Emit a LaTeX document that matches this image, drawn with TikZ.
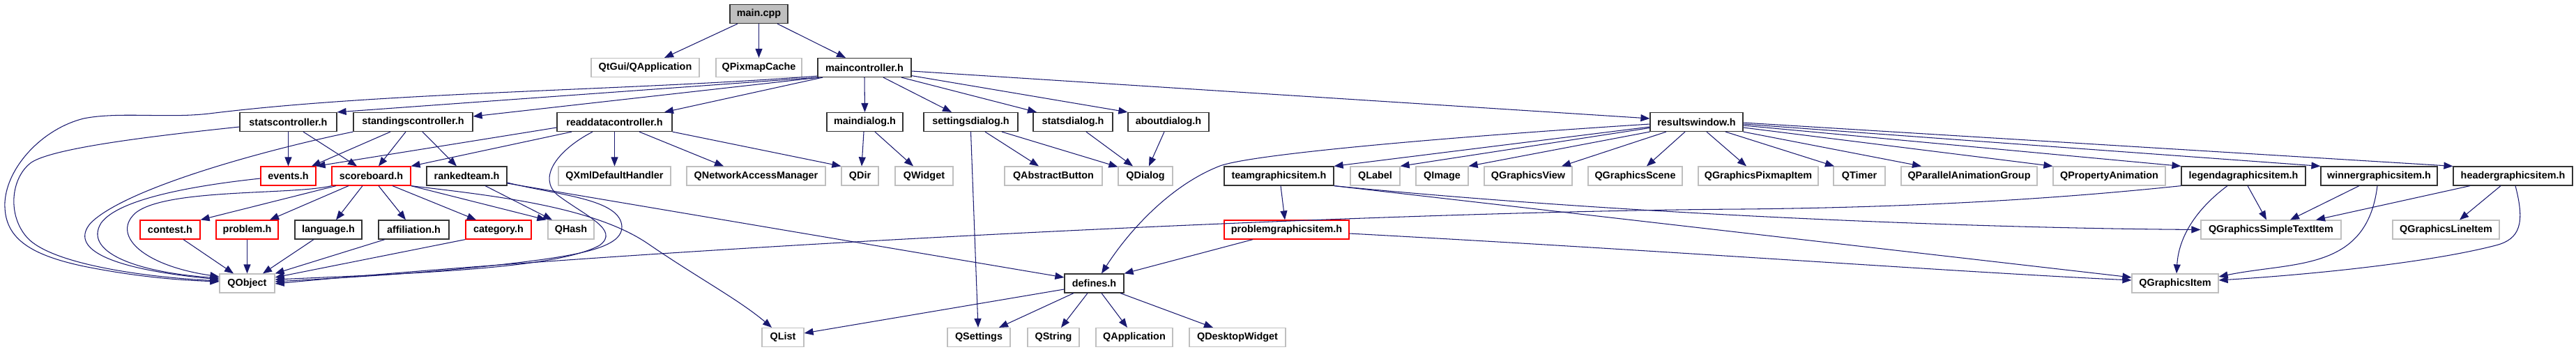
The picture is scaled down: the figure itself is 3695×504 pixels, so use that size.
\documentclass[tikz,border=0pt]{standalone}
\usepackage{fontspec}
\setmainfont{Liberation Sans}
\usetikzlibrary{arrows.meta}
\definecolor{edgecol}{HTML}{191970}
\definecolor{graybd}{HTML}{BFBFBF}
\definecolor{redbd}{HTML}{FF0000}
\definecolor{blackbd}{HTML}{333333}
\definecolor{mainfill}{HTML}{BFBFBF}
\tikzset{
  nd/.style={line width=1.2pt, minimum height=27pt, inner sep=0pt, anchor=center,
    font=\bfseries\fontsize{14.4}{16}\selectfont, text=black},
  blackbox/.style={nd, draw=blackbd, fill=white},
  redbox/.style={nd, draw=redbd, fill=white},
  graybox/.style={nd, draw=graybd, fill=white},
  mainbox/.style={nd, draw=blackbd, fill=mainfill},
  edge/.style={draw=edgecol, line width=1.05pt, -{Triangle[length=13pt,width=10pt]}}
}
\begin{document}
\begin{tikzpicture}[x=1pt,y=-1pt]
\fill[white] (0,0) rectangle (3695,504);
\useasboundingbox (0,0) rectangle (3695,504);
% row 1
\node[mainbox, minimum width=83pt] (main) at (1088.5,20) {main.cpp};
% row 2
\node[graybox, minimum width=155pt] (qtgui) at (925.5,97) {QtGui/QApplication};
\node[graybox, minimum width=123pt] (qpixmap) at (1088.5,97) {QPixmapCache};
\node[blackbox, minimum width=134pt] (mainctl) at (1240,97) {maincontroller.h};
% row 3
\node[blackbox, minimum width=139pt] (statsctl) at (413.5,175) {statscontroller.h};
\node[blackbox, minimum width=171pt] (standctl) at (592.5,175) {standingscontroller.h};
\node[blackbox, minimum width=165pt] (readctl) at (881.5,175) {readdatacontroller.h};
\node[blackbox, minimum width=109pt] (maindlg) at (1240.5,175) {maindialog.h};
\node[blackbox, minimum width=135pt] (settdlg) at (1392.5,175) {settingsdialog.h};
\node[blackbox, minimum width=114pt] (statsdlg) at (1539,175) {statsdialog.h};
\node[blackbox, minimum width=116pt] (aboutdlg) at (1676,175) {aboutdialog.h};
\node[blackbox, minimum width=133pt] (resultswin) at (2433.5,175) {resultswindow.h};
% row 4
\node[redbox, minimum width=79pt] (events) at (413.5,252.5) {events.h};
\node[redbox, minimum width=113pt] (scoreboard) at (532.5,252.5) {scoreboard.h};
\node[blackbox, minimum width=115pt] (ranked) at (669.5,252.5) {rankedteam.h};
\node[graybox, minimum width=161pt] (qxml) at (881.5,252.5) {QXmlDefaultHandler};
\node[graybox, minimum width=199pt] (qnam) at (1084.5,252.5) {QNetworkAccessManager};
\node[graybox, minimum width=53pt] (qdir) at (1233.5,252.5) {QDir};
\node[graybox, minimum width=83pt] (qwidget) at (1325.5,252.5) {QWidget};
\node[graybox, minimum width=140pt] (qabsbtn) at (1511,252.5) {QAbstractButton};
\node[graybox, minimum width=78pt] (qdialog) at (1643,252.5) {QDialog};
\node[blackbox, minimum width=157pt] (teamgi) at (1834.5,252.5) {teamgraphicsitem.h};
\node[graybox, minimum width=71pt] (qlabel) at (1972.5,252.5) {QLabel};
\node[graybox, minimum width=75pt] (qimage) at (2068.5,252.5) {QImage};
\node[graybox, minimum width=126pt] (qgview) at (2192,252.5) {QGraphicsView};
\node[graybox, minimum width=135pt] (qgscene) at (2345.5,252.5) {QGraphicsScene};
\node[graybox, minimum width=172pt] (qgpix) at (2522,252.5) {QGraphicsPixmapItem};
\node[graybox, minimum width=74pt] (qtimer) at (2667,252.5) {QTimer};
\node[graybox, minimum width=195pt] (qpag) at (2824.5,252.5) {QParallelAnimationGroup};
\node[graybox, minimum width=161pt] (qpropanim) at (3025.5,252.5) {QPropertyAnimation};
\node[blackbox, minimum width=178pt] (legendgi) at (3218,252.5) {legendagraphicsitem.h};
\node[blackbox, minimum width=167pt] (winnergi) at (3412.5,252.5) {winnergraphicsitem.h};
\node[blackbox, minimum width=171pt] (headergi) at (3604.5,252.5) {headergraphicsitem.h};
% row 5
\node[redbox, minimum width=86pt] (contest) at (244,329.5) {contest.h};
\node[redbox, minimum width=89pt] (problem) at (354.5,329.5) {problem.h};
\node[blackbox, minimum width=96pt] (language) at (471,329.5) {language.h};
\node[blackbox, minimum width=101pt] (affil) at (593.5,329.5) {affiliation.h};
\node[redbox, minimum width=94pt] (category) at (715,329.5) {category.h};
\node[graybox, minimum width=66pt] (qhash) at (819,329.5) {QHash};
\node[redbox, minimum width=179pt] (problemgi) at (1845.5,329.5) {problemgraphicsitem.h};
\node[graybox, minimum width=201pt] (qgsimple) at (3257.5,329.5) {QGraphicsSimpleTextItem};
\node[graybox, minimum width=153pt] (qgline) at (3508.5,329.5) {QGraphicsLineItem};
% row 6
\node[graybox, minimum width=79pt] (qobject) at (354.5,406.5) {QObject};
\node[blackbox, minimum width=85pt] (defines) at (1569.5,406.5) {defines.h};
\node[graybox, minimum width=124pt] (qgitem) at (3120,406.5) {QGraphicsItem};
% row 7
\node[graybox, minimum width=60pt] (qlist) at (1123,484) {QList};
\node[graybox, minimum width=90pt] (qsettings) at (1404,484) {QSettings};
\node[graybox, minimum width=74pt] (qstring) at (1511,484) {QString};
\node[graybox, minimum width=110pt] (qapp) at (1627,484) {QApplication};
\node[graybox, minimum width=138pt] (qdesk) at (1775,484) {QDesktopWidget};

% main.cpp
\draw[edge] ([xshift=-30.5pt]main.south) -- ([xshift=27.5pt]qtgui.north);
\draw[edge] (main.south) -- (qpixmap.north);
\draw[edge] ([xshift=26.5pt]main.south) -- ([xshift=-27pt]mainctl.north);
% maincontroller.h
\draw[edge] (mainctl.south west) -- (statsctl.north east);
\draw[edge] ([xshift=3pt]mainctl.south west) -- ([yshift=8pt]standctl.east);
\draw[edge] ([xshift=-60pt]mainctl.south) -- ([xshift=71.5pt]readctl.north);
\draw[edge] ([yshift=2pt]mainctl.south west) .. controls (900,130) and (550,132) .. (300,163)
  .. controls (240,170) and (170,160) .. (120,170)
  .. controls (60,185) and (10,240) .. (7,290)
  .. controls (5,340) and (40,365) .. (120,382)
  .. controls (200,398) and (260,402) .. ([yshift=2.5pt]qobject.west);
\draw[edge] (mainctl.south) -- (maindlg.north);
\draw[edge] ([xshift=27pt]mainctl.south) -- ([xshift=-27.5pt]settdlg.north);
\draw[edge] ([xshift=53pt]mainctl.south) -- ([xshift=-52pt]statsdlg.north);
\draw[edge] ([yshift=2.5pt]mainctl.south east) -- (aboutdlg.north west);
\draw[edge] ([yshift=-5pt]mainctl.east) -- ([yshift=5pt]resultswin.west);
% statscontroller.h
\draw[edge] (statsctl.south) -- (events.north);
\draw[edge] ([xshift=21.5pt]statsctl.south) -- ([xshift=-20.5pt]scoreboard.north);
\draw[edge] ([yshift=-7pt]statsctl.west) .. controls (250,192) and (80,210) .. (45,233)
  .. controls (15,255) and (10,310) .. (40,342)
  .. controls (75,378) and (200,397) .. ([yshift=3.5pt]qobject.west);
% standingscontroller.h
\draw[edge] ([xshift=-32.5pt]standctl.south) -- ([xshift=33.5pt]events.north);
\draw[edge] ([xshift=-10.5pt]standctl.south) -- ([xshift=10.5pt]scoreboard.north);
\draw[edge] ([xshift=13.5pt]standctl.south) -- ([xshift=-14.5pt]ranked.north);
\draw[edge] (standctl.south west) .. controls (380,215) and (180,270) .. (130,320)
  .. controls (100,355) and (150,385) .. ([yshift=5.5pt]qobject.west);
% readdatacontroller.h
\draw[edge] ([yshift=-8pt]readctl.west) -- (events.north east);
\draw[edge] ([xshift=-61.5pt]readctl.south) -- (scoreboard.north east);
\draw[edge] (readctl.south) -- (qxml.north);
\draw[edge] ([xshift=35.5pt]readctl.south) -- ([xshift=-46.5pt]qnam.north);
\draw[edge] (readctl.south east) -- (qdir.north west);
\draw[edge] ([xshift=-31.5pt]readctl.south) .. controls (800,215) and (770,255) .. (800,280)
  .. controls (840,310) and (890,330) .. (860,352)
  .. controls (800,385) and (600,392) .. ([yshift=5.5pt]qobject.east);
% dialogs
\draw[edge] ([xshift=-1.5pt]maindlg.south) -- ([xshift=2.5pt]qdir.north);
\draw[edge] ([xshift=14.5pt]maindlg.south) -- ([xshift=-15.5pt]qwidget.north);
\draw[edge] (settdlg.south) -- ([xshift=-1pt]qsettings.north);
\draw[edge] ([xshift=20.5pt]settdlg.south) -- ([xshift=-21pt]qabsbtn.north);
\draw[edge] ([xshift=44.5pt]settdlg.south) -- ([yshift=-1pt]qdialog.north west);
\draw[edge] ([xshift=19pt]statsdlg.south) -- ([xshift=-18pt]qdialog.north);
\draw[edge] ([xshift=-6pt]aboutdlg.south) -- ([xshift=5pt]qdialog.north);
% resultswindow.h
\draw[edge] ([yshift=-3pt]resultswin.west) .. controls (2100,195) and (1800,220) .. (1750,238)
  .. controls (1680,265) and (1620,330) .. ([xshift=10.5pt]defines.north);
\draw[edge] ([yshift=-7pt]resultswin.west) -- (teamgi.north east);
\draw[edge] ([yshift=-8.5pt]resultswin.west) -- (qlabel.north east);
\draw[edge] (resultswin.south west) -- (qimage.north east);
\draw[edge] ([xshift=-43.5pt]resultswin.south) -- ([xshift=48pt]qgview.north);
\draw[edge] ([xshift=-16.5pt]resultswin.south) -- ([xshift=16.5pt]qgscene.north);
\draw[edge] ([xshift=14.5pt]resultswin.south) -- ([xshift=-17pt]qgpix.north);
\draw[edge] ([xshift=41.5pt]resultswin.south) -- ([xshift=-36pt]qtimer.north);
\draw[edge] (resultswin.south east) -- ([xshift=-68.5pt]qpag.north);
\draw[edge] ([yshift=-8pt]resultswin.east) -- (qpropanim.north west);
\draw[edge] ([yshift=-5pt]resultswin.east) -- (legendgi.north west);
\draw[edge] ([yshift=-3pt]resultswin.east) -- (winnergi.north west);
\draw[edge] ([yshift=-1pt]resultswin.east) -- (headergi.north west);
% events.h
\draw[edge] ([yshift=-3.5pt]events.west) .. controls (280,266) and (170,285) .. (145,320)
  .. controls (120,360) and (190,390) .. ([yshift=7.5pt]qobject.west);
% scoreboard.h
\draw[edge] ([xshift=-50.5pt]scoreboard.south) -- (contest.north east);
\draw[edge] ([xshift=-32.5pt]scoreboard.south) -- ([xshift=32.5pt]problem.north);
\draw[edge] ([xshift=-12.5pt]scoreboard.south) -- ([xshift=11pt]language.north);
\draw[edge] ([xshift=10.5pt]scoreboard.south) -- ([xshift=-11.5pt]affil.north);
\draw[edge] ([xshift=30.5pt]scoreboard.south) -- ([xshift=-32pt]category.north);
\draw[edge] (scoreboard.south east) -- ([xshift=-2pt]qhash.north west);
\draw[edge] (scoreboard.south east) .. controls (700,280) and (850,295) .. (930,350)
  .. controls (1000,398) and (1060,430) .. ([xshift=-16pt]qlist.north);
\draw[edge] (scoreboard.south west) .. controls (420,280) and (240,270) .. (195,305)
  .. controls (160,335) and (200,380) .. ([yshift=9.5pt]qobject.west);
% rankedteam.h
\draw[edge] ([xshift=26.5pt]ranked.south) -- ([xshift=-27pt]qhash.north);
\draw[edge] ([yshift=-10.5pt]ranked.east) -- ([yshift=8.5pt]defines.west);
\draw[edge] ([yshift=-9.5pt]ranked.east) .. controls (800,280) and (890,285) .. (892,325)
  .. controls (893,350) and (850,362) .. (780,372)
  .. controls (650,390) and (500,398) .. ([yshift=2.5pt]qobject.east);
% row 5 to QObject
\draw[edge] ([xshift=19pt]contest.south) -- ([xshift=-19.5pt]qobject.north);
\draw[edge] (problem.south) -- (qobject.north);
\draw[edge] ([xshift=-21pt]language.south) -- ([xshift=22.5pt]qobject.north);
\draw[edge] ([xshift=-41.5pt]affil.south) -- (qobject.north east);
\draw[edge] (category.south west) -- ([yshift=8.5pt]qobject.east);
% legendagraphicsitem.h
\draw[edge] (legendgi.south west) .. controls (3000,280) and (2800,297) .. (2500,300)
  .. controls (2000,303) and (1000,350) .. ([yshift=-0.5pt]qobject.east);
\draw[edge] ([xshift=6pt]legendgi.south) -- ([xshift=-6.5pt]qgsimple.north);
\draw[edge] ([xshift=-23pt]legendgi.south) .. controls (3150,300) and (3125,340) .. ([xshift=2pt]qgitem.north);
% teamgraphicsitem.h
\draw[edge] ([xshift=2.5pt]teamgi.south) -- ([xshift=-2.5pt]problemgi.north);
\draw[edge] (teamgi.south east) .. controls (2300,305) and (2800,327) .. (qgsimple.west);
\draw[edge] (teamgi.south east) -- ([yshift=8.5pt]qgitem.west);
% problemgraphicsitem.h
\draw[edge] ([xshift=-48.5pt]problemgi.south) -- (defines.north east);
\draw[edge] ([yshift=-5.5pt]problemgi.east) .. controls (2400,360) and (2800,390) .. ([yshift=4.5pt]qgitem.west);
% winnergraphicsitem.h
\draw[edge] ([xshift=-28.5pt]winnergi.south) -- ([xshift=27.5pt]qgsimple.north);
\draw[edge] ([xshift=-2.5pt]winnergi.south) .. controls (3395,390) and (3290,375) .. ([yshift=9.5pt]qgitem.east);
% headergraphicsitem.h
\draw[edge] ([xshift=-61.5pt]headergi.south) -- ([xshift=64.5pt]qgsimple.north);
\draw[edge] ([xshift=-17.5pt]headergi.south) -- ([xshift=19.5pt]qgline.north);
\draw[edge] ([xshift=3.5pt]headergi.south) .. controls (3622,320) and (3615,343) .. (3580,352)
  .. controls (3480,378) and (3300,395) .. ([yshift=4.5pt]qgitem.east);
% defines.h
\draw[edge] ([yshift=-8.5pt]defines.west) -- ([yshift=6pt]qlist.east);
\draw[edge] ([xshift=-29.5pt]defines.south) -- ([xshift=29pt]qsettings.north);
\draw[edge] ([xshift=-9.5pt]defines.south) -- ([xshift=11pt]qstring.north);
\draw[edge] ([xshift=10.5pt]defines.south) -- ([xshift=-10pt]qapp.north);
\draw[edge] ([xshift=37.5pt]defines.south) -- ([xshift=-35pt]qdesk.north);
\end{tikzpicture}
\end{document}
